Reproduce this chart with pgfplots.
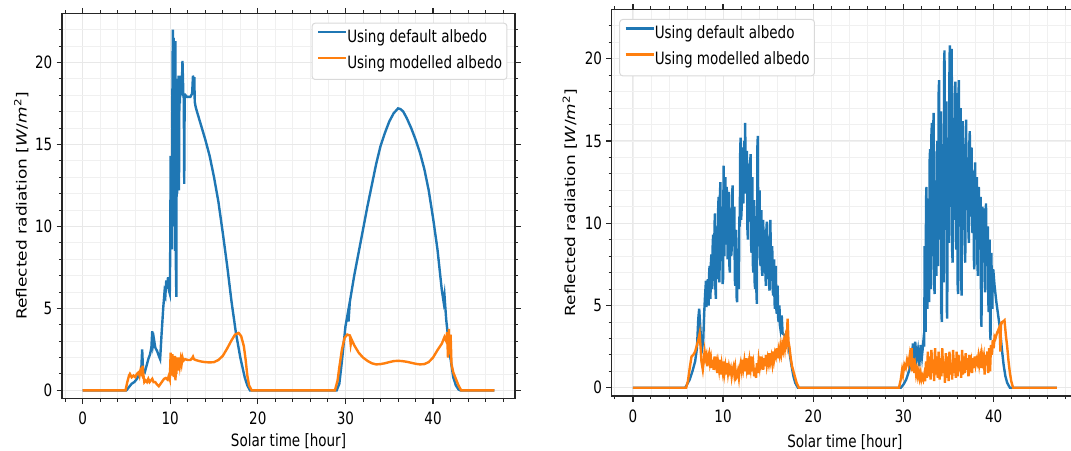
\documentclass[border=0pt]{standalone}
\usepackage{pgfplots}
\usepackage{pgfplotstable}
\pgfplotsset{compat=1.18}
\usepackage{fontspec}
\setmainfont{DejaVu Sans}[FakeStretch=0.795]
\newfontfamily\labfont{DejaVu Sans}
\definecolor{tabblue}{HTML}{1F77B4}
\definecolor{taborange}{HTML}{FF7F0E}

\pgfplotstableread{
x y
0 0
5.0 0
5.3 0.2
5.6 0.4
5.9 0.5
6.2 0.7
6.5 1.0
6.7 1.3
6.8 2.5
6.9 1.2
7.1 1.1
7.3 1.5
7.5 1.9
7.7 2.2
7.85 2.6
7.95 3.6
8.05 2.8
8.15 3.1
8.3 2.6
8.5 2.4
8.7 2.1
8.85 1.9
9.0 3.3
9.2 5.0
9.35 6.0
9.45 5.8
9.55 6.7
9.65 6.2
9.75 6.9
9.85 6.1
9.95 5.9
10.0 8.5
10.05 14.3
10.1 10.0
10.15 14.0
10.2 8.6
10.25 18.0
10.3 22.0
10.35 10.0
10.4 21.5
10.45 13.0
10.5 18.5
10.55 8.5
10.6 21.3
10.65 7.5
10.7 5.7
10.75 19.0
10.8 12.0
10.85 18.6
10.9 14.5
10.95 19.2
11.0 12.2
11.05 18.8
11.1 17.5
11.2 19.2
11.3 18.0
11.4 20.1
11.5 18.0
11.55 17.8
11.6 12.6
11.65 17.9
11.75 18.0
11.9 17.9
12.1 17.9
12.3 17.9
12.5 18.1
12.6 19.2
12.7 18.6
12.75 19.1
12.8 17.6
12.9 17.3
13.0 17.1
13.5 16.2
14.0 15.3
14.5 14.3
15.0 13.0
15.5 11.5
16.0 9.6
16.5 7.6
17.0 5.4
17.5 3.5
18.0 2.0
18.5 0.8
18.8 0.3
19.1 0
29.0 0
29.3 0.4
29.6 1.8
30.0 3.9
30.3 4.8
30.35 4.2
30.5 5.4
31.0 7.0
31.5 8.4
32.0 9.8
32.5 11.2
33.0 12.5
33.5 13.8
34.0 14.9
34.5 15.7
35.0 16.4
35.5 16.9
36.0 17.2
36.3 17.15
36.6 17.0
37.0 16.6
37.5 16.0
38.0 15.3
38.5 14.5
39.0 13.5
39.5 12.2
40.0 10.5
40.5 8.6
41.0 6.1
41.2 5.4
41.3 5.8
41.5 4.3
41.7 3.3
41.85 2.3
42.0 1.9
42.3 0.8
42.6 0.3
42.9 0.05
43.1 0
47 0
}\lblue

\pgfplotstableread{
x y
0 0
4.9 0
5.1 0.5
5.3 0.9
5.4 1.0
5.6 0.8
5.8 0.9
6.0 0.8
6.2 1.0
6.4 1.1
6.5 0.9
6.6 1.2
6.75 1.0
6.85 1.5
6.95 0.9
7.05 0.5
7.2 0.6
7.35 0.5
7.5 0.7
7.65 0.5
7.8 0.6
7.95 0.7
8.1 0.5
8.3 0.5
8.5 0.35
8.7 0.25
8.9 0.4
9.1 0.55
9.3 0.7
9.5 0.75
9.7 0.65
9.85 0.9
9.95 0.7
10.0 1.4
10.05 2.3
10.1 1.1
10.15 2.0
10.2 0.9
10.25 2.2
10.3 1.3
10.35 2.1
10.4 0.8
10.45 1.9
10.5 1.2
10.55 2.1
10.6 0.6
10.65 1.7
10.7 1.0
10.75 2.0
10.8 1.4
10.85 1.9
10.9 1.2
11.0 2.0
11.1 1.5
11.2 1.9
11.3 1.6
11.4 2.0
11.5 1.8
11.7 1.9
12.0 1.85
12.3 1.85
12.5 1.95
12.6 2.05
12.7 1.9
12.9 1.85
13.2 1.8
13.6 1.75
14.0 1.72
14.5 1.7
15.0 1.72
15.5 1.85
16.0 2.1
16.5 2.55
17.0 3.05
17.4 3.4
17.8 3.5
18.1 3.3
18.4 2.7
18.6 1.9
18.8 0.9
19.0 0.3
19.3 0
28.8 0
29.1 0.6
29.3 1.4
29.6 2.5
29.9 3.2
30.2 3.4
30.5 3.35
30.6 2.8
30.7 3.1
31.0 2.75
31.5 2.3
32.0 2.0
32.5 1.8
33.0 1.65
33.5 1.58
34.0 1.6
34.5 1.65
35.0 1.72
35.5 1.78
36.0 1.8
36.5 1.78
37.0 1.74
37.5 1.68
38.0 1.62
38.5 1.58
39.0 1.6
39.5 1.72
40.0 2.0
40.5 2.45
41.0 2.85
41.3 3.25
41.5 3.0
41.6 3.55
41.7 2.0
41.8 3.75
41.9 2.2
42.0 3.4
42.1 1.6
42.3 1.1
42.6 0.7
42.9 0.3
43.2 0
47 0
}\lorange

\pgfplotstableread{
x y
0 0
5.8 0
6.0 0.2
6.3 0.5
6.6 1.0
6.9 1.6
7.1 2.4
7.25 4.2
7.35 4.8
7.45 3.9
7.55 3.0
7.7 2.5
7.8 2.9
7.9 4.5
8.0 5.6
8.1 6.5
8.15 4.9
8.2 5.2
8.25 6.2
8.3 6.6
8.35 5.3
8.4 5.0
8.45 6.9
8.5 7.4
8.55 5.6
8.6 5.4
8.65 7.6
8.7 8.1
8.75 6.3
8.8 6.0
8.85 8.8
8.9 9.3
8.95 6.5
9.0 7.0
9.05 9.9
9.1 10.6
9.15 6.0
9.2 5.4
9.25 8.9
9.3 9.8
9.35 6.6
9.4 7.2
9.45 10.8
9.5 11.6
9.55 6.9
9.6 6.4
9.65 11.7
9.7 12.5
9.75 8.2
9.8 7.7
9.85 10.4
9.9 11.0
9.95 6.3
10.0 6.6
10.05 13.5
10.1 9.1
10.15 8.0
10.2 11.9
10.25 12.8
10.3 8.7
10.35 9.5
10.4 12.2
10.45 11.4
10.5 7.8
10.55 8.2
10.6 11.2
10.65 11.9
10.7 7.4
10.75 7.0
10.8 10.9
10.85 10.5
10.9 8.0
10.95 8.4
11.0 11.6
11.05 12.3
11.1 8.6
11.15 9.0
11.2 10.4
11.25 11.0
11.3 6.6
11.35 6.2
11.4 9.2
11.45 9.6
11.5 5.5
11.55 5.2
11.6 8.3
11.65 7.8
11.7 6.4
11.75 6.0
11.8 10.4
11.85 9.8
11.9 14.6
11.95 15.2
12.0 10.2
12.05 10.8
12.1 14.0
12.15 14.6
12.2 11.8
12.25 11.2
12.3 14.4
12.35 15.0
12.4 12.3
12.45 16.1
12.5 12.5
12.55 11.8
12.6 13.8
12.65 14.4
12.7 9.6
12.75 9.0
12.8 13.0
12.85 13.6
12.9 10.1
12.95 10.6
13.0 13.6
13.05 14.2
13.1 8.8
13.15 8.2
13.2 12.2
13.25 12.8
13.3 7.5
13.35 7.0
13.4 10.9
13.45 11.4
13.5 6.4
13.55 6.0
13.6 9.8
13.65 10.4
13.7 5.6
13.75 5.1
13.8 14.6
13.85 15.3
13.9 9.2
13.95 8.6
14.0 11.4
14.05 12.0
14.1 7.9
14.15 7.4
14.2 10.3
14.25 10.8
14.3 7.2
14.35 6.8
14.4 9.7
14.45 10.2
14.5 7.5
14.55 7.0
14.6 9.1
14.65 9.6
14.7 6.7
14.75 6.2
14.8 9.6
14.85 10.1
14.9 7.0
14.95 6.6
15.0 8.7
15.05 9.2
15.1 6.3
15.15 5.9
15.2 9.7
15.25 10.2
15.3 6.9
15.35 6.5
15.4 8.2
15.45 8.6
15.5 6.0
15.55 5.6
15.6 7.4
15.65 7.8
15.7 5.2
15.75 4.8
15.8 7.0
15.85 7.4
15.9 4.8
15.95 4.5
16.0 5.9
16.05 6.2
16.1 4.3
16.15 4.0
16.2 4.8
16.25 5.0
16.3 3.8
16.35 3.6
16.5 4.4
16.6 3.3
16.8 3.2
17.0 3.0
17.2 2.8
17.4 2.0
17.6 1.3
17.8 0.7
18.0 0.3
18.3 0
29.7 0
30.0 0.2
30.3 0.5
30.6 1.0
30.9 1.6
31.05 2.7
31.15 1.4
31.3 2.8
31.45 1.8
31.6 2.3
31.75 1.3
31.9 2.6
32.05 1.9
32.2 2.8
32.3 2.5
32.35 8.6
32.4 4.0
32.45 3.4
32.5 11.4
32.55 12.2
32.6 5.4
32.65 4.8
32.7 10.8
32.75 11.5
32.8 5.8
32.85 5.2
32.9 13.8
32.95 14.5
33.0 6.6
33.05 6.0
33.1 15.4
33.15 16.1
33.2 8.6
33.25 8.0
33.3 15.9
33.35 16.7
33.4 6.3
33.45 5.7
33.5 11.9
33.55 12.6
33.6 7.4
33.65 6.8
33.7 14.2
33.75 15.0
33.8 8.0
33.85 7.4
33.9 17.9
33.95 18.7
34.0 9.7
34.05 9.0
34.1 16.0
34.15 16.8
34.2 4.6
34.25 4.0
34.3 14.0
34.35 14.8
34.4 7.0
34.45 6.4
34.5 19.6
34.55 20.5
34.6 10.3
34.65 9.6
34.7 16.6
34.75 17.4
34.8 4.8
34.85 4.2
34.9 14.4
34.95 15.2
35.0 9.5
35.05 8.8
35.1 20.0
35.15 20.8
35.2 11.6
35.25 11.0
35.3 19.8
35.35 20.6
35.4 8.3
35.45 7.6
35.5 15.6
35.55 16.4
35.6 10.9
35.65 10.2
35.7 17.8
35.75 18.6
35.8 9.1
35.85 8.4
35.9 17.1
35.95 17.9
36.0 6.4
36.05 5.7
36.1 17.9
36.15 18.7
36.2 10.5
36.25 9.8
36.3 16.2
36.35 17.0
36.4 6.3
36.45 5.6
36.5 15.4
36.55 16.2
36.6 10.3
36.65 9.6
36.7 14.0
36.75 14.8
36.8 8.3
36.85 7.6
36.9 15.5
36.95 16.3
37.0 11.5
37.05 10.8
37.1 13.2
37.15 14.0
37.2 9.5
37.25 8.8
37.3 14.8
37.35 15.6
37.4 11.1
37.45 10.4
37.5 13.8
37.55 14.6
37.6 10.1
37.65 9.4
37.7 12.4
37.75 13.2
37.8 7.9
37.85 7.2
37.9 12.9
37.95 13.7
38.0 9.7
38.05 9.0
38.1 12.0
38.15 12.8
38.2 7.5
38.25 6.8
38.3 11.4
38.35 12.2
38.4 9.1
38.45 8.4
38.5 10.8
38.55 11.6
38.6 4.4
38.65 3.7
38.7 10.2
38.75 11.0
38.8 8.3
38.85 7.6
38.9 10.1
38.95 10.9
39.0 6.5
39.05 5.8
39.1 10.4
39.15 11.2
39.2 8.1
39.25 7.4
39.3 9.0
39.35 9.8
39.4 5.3
39.45 4.6
39.5 8.2
39.55 9.0
39.6 3.6
39.65 2.9
39.7 7.4
39.75 8.2
39.8 5.5
39.85 4.8
39.9 6.8
39.95 7.2
40.1 6.2
40.3 5.2
40.5 4.4
40.7 3.6
40.9 2.4
41.1 1.4
41.3 0.7
41.5 0.3
41.8 0
47 0
}\rblue

\pgfplotstableread{
x y
0 0
5.9 0
6.1 0.4
6.3 1.2
6.5 1.9
6.7 2.0
6.9 2.2
7.1 2.6
7.25 2.9
7.4 3.3
7.5 2.5
7.6 1.6
7.75 1.1
7.85 1.6
7.95 2.2
8.05 1.8
8.15 2.0
8.25 1.3
8.35 1.9
8.45 2.1
8.55 1.5
8.65 1.8
8.75 1.2
8.85 1.7
8.95 1.1
9.05 1.9
9.15 1.4
9.25 1.6
9.35 0.9
9.45 1.5
9.55 1.1
9.65 1.7
9.75 0.8
9.85 1.4
9.95 1.0
10.05 1.6
10.15 0.9
10.25 1.3
10.35 0.8
10.45 1.5
10.55 0.9
10.65 1.3
10.75 1.0
10.85 1.2
10.95 0.7
11.05 1.1
11.15 1.3
11.25 0.8
11.35 1.2
11.45 0.6
11.55 0.7
11.65 1.0
11.75 0.6
11.85 1.2
11.95 1.5
12.05 1.1
12.15 1.7
12.25 1.2
12.35 1.6
12.45 1.0
12.55 1.8
12.65 1.1
12.75 1.4
12.85 0.8
12.95 1.6
13.05 1.2
13.15 1.9
13.25 1.0
13.35 1.4
13.45 0.7
13.55 1.2
13.65 0.6
13.75 1.5
13.85 0.9
13.95 1.7
14.05 1.3
14.15 1.9
14.25 1.4
14.35 1.6
14.45 1.1
14.55 1.8
14.65 1.3
14.75 2.0
14.85 1.4
14.95 1.8
15.05 1.5
15.15 2.1
15.25 1.6
15.35 1.9
15.45 1.5
15.55 2.2
15.65 1.7
15.75 2.1
15.85 1.9
15.95 2.4
16.05 1.8
16.15 2.3
16.25 2.0
16.35 2.5
16.45 2.1
16.55 2.6
16.65 2.3
16.75 2.8
16.85 2.4
16.95 3.0
17.05 2.7
17.15 4.2
17.25 2.8
17.35 2.5
17.5 1.8
17.65 1.3
17.8 1.0
17.95 0.7
18.15 0.3
18.4 0
29.5 0
29.7 0.5
29.85 1.1
29.95 0.8
30.1 1.4
30.25 1.2
30.4 1.7
30.55 1.4
30.7 2.0
30.8 1.6
30.9 2.4
31.0 1.0
31.1 1.8
31.2 0.9
31.3 1.3
31.4 0.8
31.5 1.1
31.6 0.7
31.7 1.0
31.8 0.6
31.9 0.9
32.0 0.5
32.1 0.7
32.2 0.5
32.3 0.8
32.4 0.4
32.5 1.6
32.6 0.6
32.7 2.2
32.8 0.7
32.9 1.9
33.0 0.5
33.1 2.3
33.2 0.9
33.3 1.7
33.4 0.4
33.5 2.4
33.6 0.8
33.7 1.9
33.8 0.6
33.9 2.2
34.0 0.5
34.1 1.8
34.2 0.7
34.3 2.4
34.4 0.9
34.5 1.6
34.6 0.3
34.7 2.1
34.8 0.6
34.9 1.9
35.0 0.4
35.1 2.2
35.2 0.8
35.3 1.5
35.4 0.5
35.5 2.3
35.6 0.9
35.7 1.8
35.8 0.6
35.9 2.2
36.0 0.7
36.1 2.0
36.2 1.0
36.3 1.6
36.4 0.6
36.5 2.3
36.6 0.8
36.7 1.9
36.8 0.9
36.9 2.1
37.0 1.1
37.1 1.8
37.2 0.7
37.3 2.0
37.4 1.3
37.5 1.6
37.6 0.9
37.7 1.8
37.8 1.2
37.9 1.9
38.0 1.4
38.1 1.7
38.2 1.5
38.3 1.9
38.4 1.4
38.5 1.8
38.6 1.2
38.7 2.0
38.8 1.6
38.9 1.9
39.0 0.8
39.1 2.0
39.2 1.5
39.3 2.2
39.4 0.9
39.5 2.4
39.6 1.0
39.7 2.6
39.8 2.0
39.9 2.9
40.0 2.4
40.1 3.1
40.2 3.0
40.35 3.3
40.5 3.5
40.65 3.7
40.75 2.2
40.8 3.8
40.95 4.0
41.1 4.05
41.2 4.1
41.35 3.2
41.5 2.5
41.65 1.6
41.8 0.9
41.95 0.4
42.15 0
47 0
}\rorange

\newcommand{\fs}{\fontsize{17pt}{20pt}\selectfont}

\pgfplotsset{
  myaxis/.style={
    scale only axis,
    xmin=-2.35, xmax=49.35,
    ymin=-0.5, ymax=23,
    xtick={0,10,20,30,40},
    ytick={0,5,10,15,20},
    minor xtick={-2,0,...,48},
    minor ytick={0,1,...,22},
    tick align=outside,
    major tick length=5.5pt,
    minor tick length=3.2pt,
    every tick/.style={black!85, line width=1.2pt},
    every minor tick/.style={black!85, line width=0.9pt},
    grid=both,
    major grid style={black!9, line width=1pt},
    minor grid style={black!6, line width=0.8pt},
    axis line style={black!85, line width=1.3pt},
    /pgf/number format/assume math mode=true,
    tick label style={font=\fs},
    xticklabel style={anchor=north, inner sep=0pt, yshift=-8pt},
    yticklabel style={anchor=east, inner sep=0pt, xshift=-4pt},
    xlabel={Solar time [hour]},
    ylabel={\scalebox{1}[0.82]{\labfont Reflected radiation [\textit{W}/\textit{m}\textsuperscript{2}]}},
    label style={font=\fs},
    ylabel style={at={(axis description cs:-0.090,0.5)}, anchor=center, rotate=0},
    legend cell align=left,
    legend image code/.code={\draw[##1, line width=2.4pt] (0pt,6.2pt) -- (28pt,6.2pt);},
    legend style={draw=black!15, line width=1pt, rounded corners=3pt, fill=white,
      font=\fs, inner xsep=4.7pt, inner ysep=7pt, row sep=9.7pt,
      nodes={inner sep=0pt, text height=12.5pt, text depth=3.8pt},
      /tikz/every even column/.style={column sep=10.4pt}},
  }
}

\begin{document}
\begin{tikzpicture}
\useasboundingbox (0pt,0pt) rectangle (1071pt,450pt);
\begin{axis}[myaxis,
  at={(62pt,51.5pt)}, anchor=south west,
  width=453pt, height=385.2pt,
  xlabel style={at={(axis description cs:0.5,-0.1103)}, anchor=center},
  legend style={at={(axis description cs:1,1)}, anchor=north east, xshift=-7.6pt, yshift=-9.4pt},
]
\addplot[tabblue, line width=2.4pt] table {\lblue};
\addlegendentry{Using default albedo}
\addplot[taborange, line width=2.4pt] table {\lorange};
\addlegendentry{Using modelled albedo}
\end{axis}
\begin{axis}[myaxis,
  at={(611.7pt,54pt)}, anchor=south west,
  width=466.3pt, height=386.7pt,
  xlabel style={at={(axis description cs:0.5,-0.1182)}, anchor=center},
  legend style={at={(axis description cs:0,1)}, anchor=north west, xshift=7.5pt, yshift=-9.7pt},
]
\addplot[tabblue, line width=2.4pt] table {\rblue};
\addlegendentry{Using default albedo}
\addplot[taborange, line width=2.4pt] table {\rorange};
\addlegendentry{Using modelled albedo}
\end{axis}
\end{tikzpicture}
\end{document}
